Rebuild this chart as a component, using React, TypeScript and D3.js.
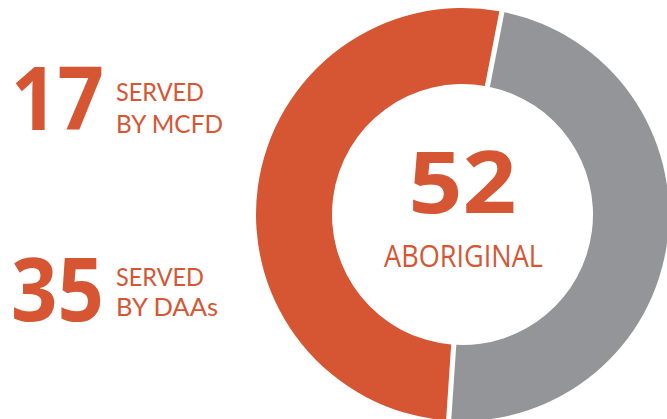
import React, { useEffect, useRef } from "react";
import * as d3 from "d3";

// share of the ring, gray first going clockwise from ~11deg
const sliceNames = ["DAAs", "MCFD"];
const sliceShares = [48, 52];
const sliceColors = ["#939598", "#D65634"];

const counts = ["17", "35"];
const lineOne = ["SERVED", "SERVED"];
const lineTwo = ["BY MCFD", "BY DAAs"];
const totalLabel = "52";
const totalName = "ABORIGINAL";

const ORANGE = "#D65634";
const FONT = "'Open Sans', 'Noto Sans', sans-serif";
const SMALL_FONT = "Lato, 'Open Sans', sans-serif";

const App = () => {
  const svgRef = useRef<SVGSVGElement>(null);
  const width = 667, height = 419;

  useEffect(() => {
    const svg = d3.select(svgRef.current);
    svg.selectAll("*").remove();

    const cx = 462.5, cy = 214.5;
    const outerR = 206.5, innerR = 130.5;

    const pie = d3.pie<number>()
      .sort(null)
      .value(d => d)
      .startAngle((11 * Math.PI) / 180)
      .endAngle((11 * Math.PI) / 180 + 2 * Math.PI)
      .padAngle(0.021);

    const arc = d3.arc<d3.PieArcDatum<number>>()
      .innerRadius(innerR)
      .outerRadius(outerR);

    const g = svg.append("g").attr("transform", `translate(${cx}, ${cy})`);
    g.selectAll("path")
      .data(pie(sliceShares))
      .enter()
      .append("path")
      .attr("d", arc)
      .attr("fill", (d, i) => sliceColors[i])
      .attr("data-name", (d, i) => sliceNames[i]);

    // centre total
    g.append("text")
      .attr("x", 0).attr("y", -1.5)
      .attr("text-anchor", "middle")
      .attr("font-family", FONT).attr("font-weight", 700)
      .attr("font-size", 86).attr("fill", ORANGE)
      .attr("textLength", 108).attr("lengthAdjust", "spacingAndGlyphs")
      .text(totalLabel);
    g.append("text")
      .attr("x", 1).attr("y", 52.5)
      .attr("text-anchor", "middle")
      .attr("font-family", FONT).attr("font-weight", 400)
      .attr("font-size", 31).attr("fill", ORANGE)
      .attr("textLength", 159).attr("lengthAdjust", "spacingAndGlyphs")
      .text(totalName);

    // left side labels
    const baselines = [130, 321];
    const firstLine = [101, 286];
    const lineGap = [32, 30];
    const secondWidth = [107, 102];
    counts.forEach((c, i) => {
      svg.append("text")
        .attr("x", 11).attr("y", baselines[i])
        .attr("font-family", FONT).attr("font-weight", 700)
        .attr("font-size", 87).attr("fill", ORANGE)
        .attr("textLength", 93).attr("lengthAdjust", "spacingAndGlyphs")
        .text(c);
      svg.append("text")
        .attr("x", 116).attr("y", firstLine[i])
        .attr("font-family", SMALL_FONT).attr("font-weight", 400)
        .attr("font-size", 24.5).attr("fill", ORANGE)
        .attr("textLength", 88).attr("lengthAdjust", "spacingAndGlyphs")
        .text(lineOne[i]);
      svg.append("text")
        .attr("x", 116).attr("y", firstLine[i] + lineGap[i])
        .attr("font-family", SMALL_FONT).attr("font-weight", 400)
        .attr("font-size", 24.5).attr("fill", ORANGE)
        .attr("textLength", secondWidth[i]).attr("lengthAdjust", "spacingAndGlyphs")
        .text(lineTwo[i]);
    });
  }, []);

  return (
    <div style={{ position: "absolute", left: 0, top: 0 }}>
      <svg ref={svgRef} width={width} height={height} style={{ display: "block", background: "#fff" }}></svg>
    </div>
  );
};

export default App;
